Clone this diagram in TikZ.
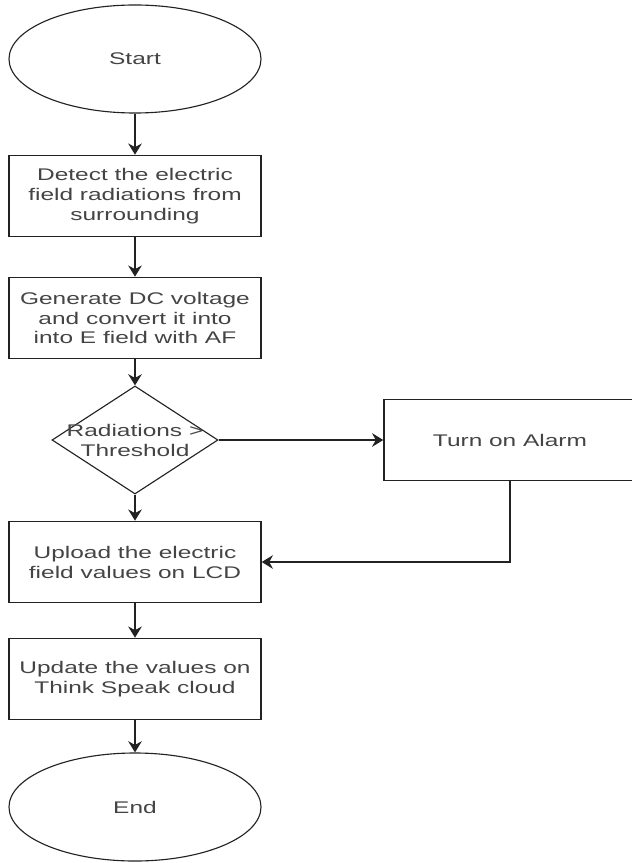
\documentclass[tikz,border=0pt]{standalone}
\usepackage{fontspec}
\setmainfont[FakeStretch=1.45]{Liberation Sans}
\usepackage{xcolor}
\usepackage{tikz}
\usetikzlibrary{shapes.geometric,arrows.meta,positioning}

\definecolor{inkgray}{HTML}{444444}
\definecolor{linegray}{HTML}{222222}

\tikzset{
    process/.style={rectangle,draw=linegray,line width=1pt,minimum width=6.3cm,minimum height=2.03cm,align=center,text=inkgray},
    terminal/.style={ellipse,draw=linegray,line width=0.8pt,minimum width=6.3cm,minimum height=2.7cm,text=inkgray},
    decision/.style={diamond,draw=linegray,line width=0.8pt,minimum width=4.15cm,minimum height=2.7cm,inner sep=0pt},
    flow/.style={-{Stealth[length=2.8mm,width=3.4mm]},line width=1pt,draw=linegray}
}

\begin{document}
\begin{tikzpicture}[node distance=3.05cm,font=\fontsize{12}{14.2}\selectfont]
    \useasboundingbox (0,0) rectangle (15.8,-21.575);

    \node[terminal] (start) at (3.375,-1.475) {Start};
    \node[process,below of=start,node distance=3.425cm] (detect) {Detect the electric\\field radiations from\\surrounding};
    \node[process,below of=detect] (generate) {Generate DC voltage\\and convert it into\\into E field with AF};
    \node[decision,below of=generate,label={[align=center,text=inkgray]center:Radiations >\\Threshold}] (check) {};
    \node[process,right of=check,node distance=9.375cm] (alarm) {Turn on Alarm};
    \node[process,below of=check] (upload) {Upload the electric\\field values on LCD};
    \node[process,below of=upload,node distance=2.925cm] (update) {Update the values on\\Think Speak cloud};
    \node[terminal,below of=update,node distance=3.2cm] (stop) {End};

    \draw[flow] (start) -- (detect);
    \draw[flow] (detect) -- (generate);
    \draw[flow] (generate) -- (check);
    \draw[flow] (check) -- (alarm);
    \draw[flow] (check) -- (upload);
    \draw[flow] (alarm.south) |- (upload.east);
    \draw[flow] (upload) -- (update);
    \draw[flow] (update) -- (stop);
\end{tikzpicture}
\end{document}
